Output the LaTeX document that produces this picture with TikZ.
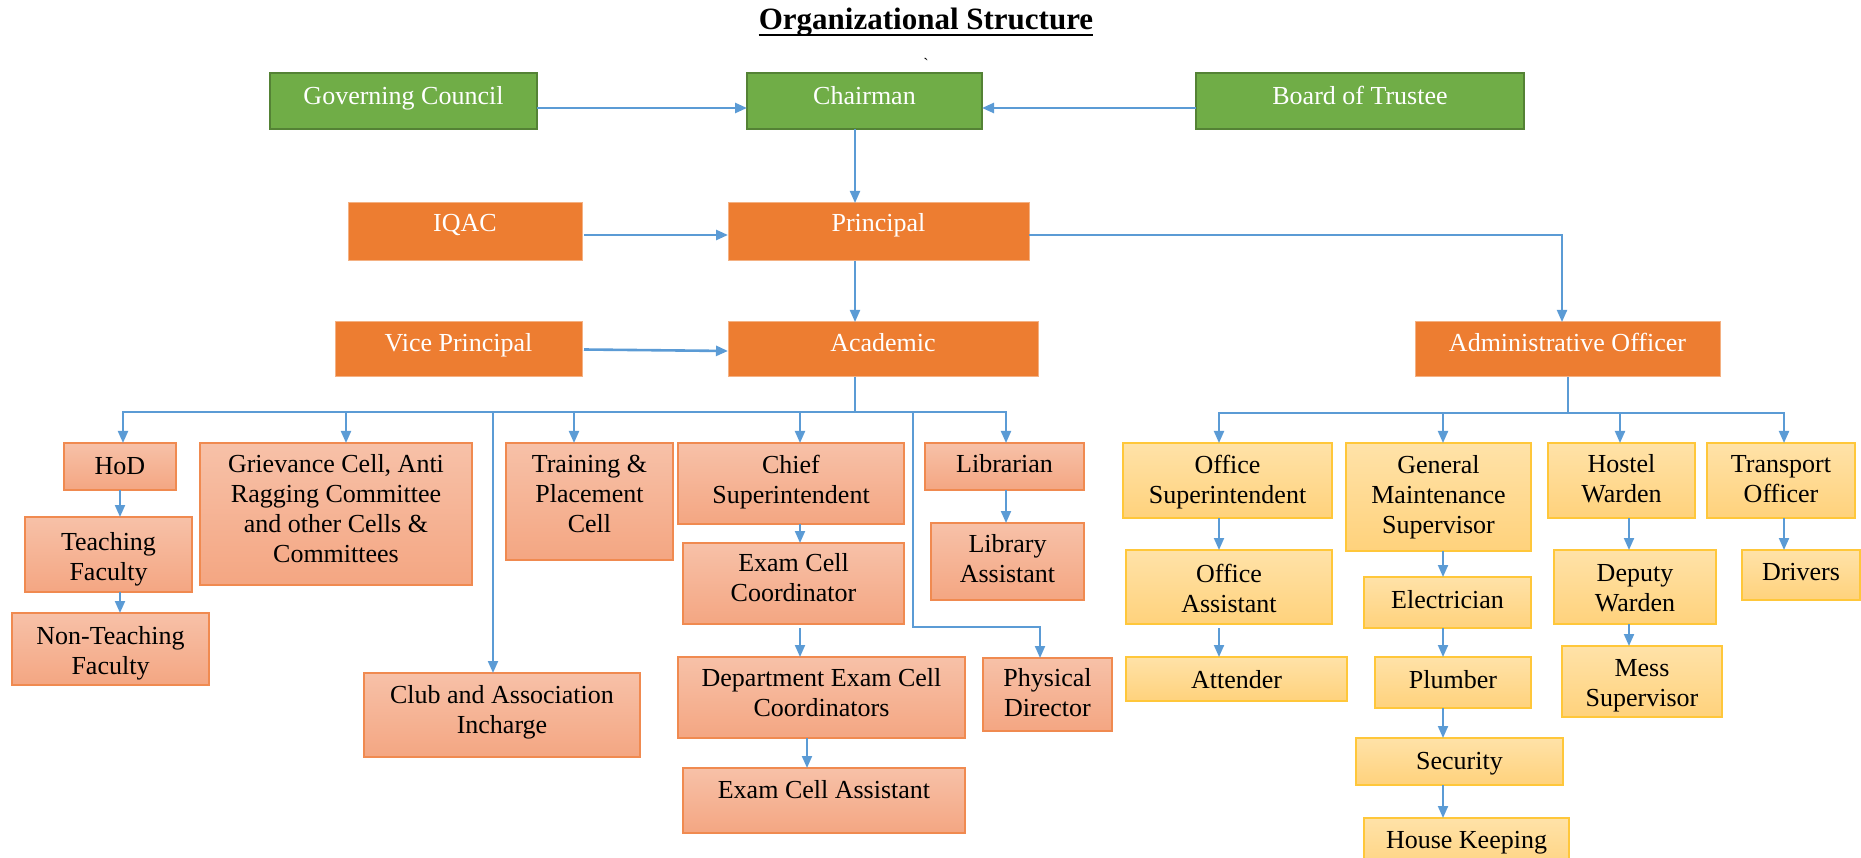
\documentclass[tikz,border=0pt]{standalone}
\usepackage{fontspec}
\setmainfont{Liberation Serif}
\usetikzlibrary{arrows.meta}
\definecolor{lineblue}{HTML}{5B9BD5}
\definecolor{gfill}{HTML}{70AD47}
\definecolor{gline}{HTML}{548235}
\definecolor{ofill}{HTML}{ED7D31}
\definecolor{oline}{HTML}{F4B183}
\definecolor{stop}{HTML}{F7C1A8}
\definecolor{sbot}{HTML}{F4A682}
\definecolor{sline}{HTML}{F08A50}
\definecolor{ytop}{HTML}{FFE2A8}
\definecolor{ybot}{HTML}{FFD27C}
\definecolor{yline}{HTML}{FFC73A}
\newcommand\orgbox[9]{%
  \node[#1, minimum width={(#5)-(#4)}, minimum height={(#7)-(#6)}] (#3) at ({((#4)+(#5))/2},{((#6)+(#7))/2}) {};
  \node[#2] (#3-t) at ([yshift=#8pt]#3.center) {#9};}
\begin{document}
\begin{tikzpicture}[x=1pt,y=-1pt,
  basebox/.style={rectangle, inner sep=0pt, outer sep=0pt, line width=1.5pt},
  gbox/.style={basebox, fill=gfill, draw=gline},
  obox/.style={basebox, fill=ofill, draw=oline, line width=1pt},
  sbox/.style={basebox, top color=stop, bottom color=sbot, draw=sline},
  ybox/.style={basebox, top color=ytop, bottom color=ybot, draw=yline},
  btxt/.style={inner sep=0pt, align=center, text=black, font=\fontsize{26}{30}\selectfont},
  wtxt/.style={btxt, text=white},
  one/.style={text height=18pt, text depth=6pt},
  conn/.style={draw=lineblue, line width=2pt},
  arr/.style={conn, -{Triangle[length=12pt,width=10pt]}},
  arrT/.style={arr, line width=2.6pt}]
\useasboundingbox (0,0) rectangle (1861,858);

% title
\node[font=\fontsize{31}{36}\selectfont\bfseries, anchor=base, inner sep=0pt] (title) at (926,30) {Organizational Structure};
\draw[line width=2.5pt] ([yshift=-5pt]title.base west) -- ([yshift=-5pt]title.base east);
\node[font=\fontsize{16}{16}\selectfont, inner sep=0pt] (tick) at (926,64) {\textasciigrave};

% top level
\orgbox{gbox}{wtxt,one}{gc}{270}{537}{73}{129}{2}{Governing Council}
\orgbox{gbox}{wtxt,one}{chair}{747}{982}{73}{129}{2}{Chairman}
\orgbox{gbox}{wtxt,one}{board}{1196}{1524}{73}{129}{2}{Board of Trustee}
\orgbox{obox}{wtxt,one}{iqac}{348}{582}{203}{261}{6}{IQAC}
\orgbox{obox}{wtxt,one}{prin}{728}{1029}{203}{261}{6}{Principal}
\orgbox{obox}{wtxt,one}{vp}{335}{582}{322}{377}{4}{Vice Principal}
\orgbox{obox}{wtxt,one}{acad}{728}{1038}{322}{377}{4}{Academic}
\orgbox{obox}{wtxt,one}{admin}{1415}{1720}{322}{377}{4}{Administrative Officer}

% academic side
\orgbox{sbox}{btxt,one}{hod}{64}{176}{443}{490}{-1.5}{HoD}
\orgbox{sbox}{btxt}{tf}{25}{192}{517}{592}{-4.5}{Teaching\\Faculty}
\orgbox{sbox}{btxt}{ntf}{12}{209}{613}{685}{-4}{Non-Teaching\\Faculty}
\orgbox{sbox}{btxt}{grv}{200}{472}{443}{585}{5}{Grievance Cell, Anti\\Ragging Committee\\and other Cells \&\\Committees}
\orgbox{sbox}{btxt}{tpc}{506}{673}{443}{560}{7.5}{Training \&\\Placement\\Cell}
\orgbox{sbox}{btxt}{club}{364}{640}{673}{757}{3}{Club and Association\\Incharge}
\orgbox{sbox}{btxt}{chief}{678}{904}{443}{524}{1.5}{Chief\\Superintendent}
\orgbox{sbox}{btxt}{ecc}{683}{904}{543}{624}{5.5}{Exam Cell\\Coordinator}
\orgbox{sbox}{btxt}{decc}{678}{965}{657}{738}{4.5}{Department Exam Cell\\Coordinators}
\orgbox{sbox}{btxt,one}{eca}{683}{965}{768}{833}{8.5}{Exam Cell Assistant}
\orgbox{sbox}{btxt,one}{lib}{925}{1084}{443}{490}{0}{Librarian}
\orgbox{sbox}{btxt}{la}{931}{1084}{523}{600}{2.5}{Library\\Assistant}
\orgbox{sbox}{btxt}{pd}{983}{1112}{658}{731}{1.5}{Physical\\Director}

% administrative side
\orgbox{ybox}{btxt}{os}{1123}{1332}{443}{518}{-1.5}{Office\\Superintendent}
\orgbox{ybox}{btxt}{oa}{1126}{1332}{550}{624}{-1}{Office\\Assistant}
\orgbox{ybox}{btxt,one}{att}{1126}{1347}{657}{701}{-3}{Attender}
\orgbox{ybox}{btxt}{gms}{1346}{1531}{443}{551}{0}{General\\Maintenance\\Supervisor}
\orgbox{ybox}{btxt,one}{elec}{1364}{1531}{577}{628}{0.5}{Electrician}
\orgbox{ybox}{btxt,one}{plum}{1375}{1531}{657}{708}{0.5}{Plumber}
\orgbox{ybox}{btxt,one}{sec}{1356}{1563}{738}{785}{-1.5}{Security}
\orgbox{ybox}{btxt,one}{hk}{1364}{1569}{818}{875}{4.5}{House Keeping}
\orgbox{ybox}{btxt}{hw}{1548}{1695}{443}{518}{1.5}{Hostel\\Warden}
\orgbox{ybox}{btxt}{dw}{1554}{1716}{550}{624}{-1}{Deputy\\Warden}
\orgbox{ybox}{btxt}{ms}{1562}{1722}{646}{717}{-4.5}{Mess\\Supervisor}
\orgbox{ybox}{btxt}{trans}{1707}{1855}{443}{518}{1.5}{Transport\\Officer}
\orgbox{ybox}{btxt,one}{drv}{1742}{1860}{550}{600}{1}{Drivers}

% top connectors
\coordinate (spine) at (855,0);
\draw[arrT] ([yshift=-7pt]gc.east) -- ([yshift=-7pt]chair.west);
\draw[arrT] ([yshift=-7pt]board.west) -- ([yshift=-7pt]chair.east);
\draw[arr] (chair.south -| spine) -- (prin.north -| spine);
\draw[arrT] ([xshift=2pt,yshift=-3pt]iqac.east) -- ([yshift=-3pt]prin.west);
\draw[arr] (prin.south -| spine) -- (acad.north -| spine);
\draw[arrT] ([xshift=2pt]vp.east) -- ([yshift=-1.5pt]acad.west);
\coordinate (admtop) at ([xshift=-5.5pt]admin.north);
\draw[arr] ([yshift=-3pt]prin.east) -| (admtop);

% academic bus
\coordinate (abus) at (855,412);
\draw[conn] (acad.south -| spine) -- (abus);
\coordinate (hodtop) at ([xshift=3pt]hod.north);
\coordinate (grvtop) at ([xshift=10pt]grv.north);
\coordinate (clubtop) at ([xshift=-9pt]club.north);
\coordinate (tpctop) at ([xshift=-15.5pt]tpc.north);
\coordinate (chieftop) at ([xshift=9pt]chief.north);
\coordinate (libtop) at ([xshift=1.5pt]lib.north);
\coordinate (pdtop) at ([xshift=-7.5pt]pd.north);
\coordinate (pdbend) at (913,627);
\draw[conn, line cap=rect] (abus -| hodtop) -- (abus -| libtop);
\foreach \t in {hodtop,grvtop,clubtop,tpctop,chieftop,libtop}
  \draw[arr] (abus -| \t) -- (\t);
\draw[arr] (abus -| pdbend) -- (pdbend) -| (pdtop);

\draw[arr] (hod.south) -- (hod.south |- tf.north);
\draw[arr] (tf.south -| hod.south) -- (ntf.north -| hod.south);
\draw[arr] (chief.south -| chieftop) -- (ecc.north -| chieftop);
\coordinate (eccout) at ([yshift=-4pt]ecc.south);
\draw[arr] (eccout -| chieftop) -- (decc.north -| chieftop);
\coordinate (ecatop) at ([xshift=-17pt]eca.north);
\draw[arr] (decc.south -| ecatop) -- (ecatop);
\draw[arr] (lib.south -| libtop) -- (la.north -| libtop);

% administrative bus
\coordinate (dbus) at (1568,413);
\draw[conn] (admin.south -| dbus) -- (dbus);
\coordinate (ostop) at ([xshift=-8.5pt]os.north);
\coordinate (gmstop) at ([xshift=4.5pt]gms.north);
\coordinate (hwtop) at ([xshift=-1.5pt]hw.north);
\coordinate (trtop) at ([xshift=3pt]trans.north);
\draw[conn, line cap=rect] (dbus -| ostop) -- (dbus -| trtop);
\foreach \t in {ostop,gmstop,hwtop,trtop}
  \draw[arr] (dbus -| \t) -- (\t);
\draw[arr] (os.south -| ostop) -- (oa.north -| ostop);
\coordinate (oaout) at ([yshift=-4pt]oa.south);
\draw[arr] (oaout -| ostop) -- (att.north -| ostop);
\draw[arr] (gms.south -| gmstop) -- (elec.north -| gmstop);
\draw[arr] (elec.south -| gmstop) -- (plum.north -| gmstop);
\draw[arr] (plum.south -| gmstop) -- (sec.north -| gmstop);
\draw[arr] (sec.south -| gmstop) -- (hk.north -| gmstop);
\coordinate (hwx) at ([xshift=7.5pt]hw.south);
\draw[arr] (hwx) -- (dw.north -| hwx);
\draw[arr] (dw.south -| hwx) -- (ms.north -| hwx);
\draw[arr] (trans.south -| trtop) -- (drv.north -| trtop);
\end{tikzpicture}
\end{document}
